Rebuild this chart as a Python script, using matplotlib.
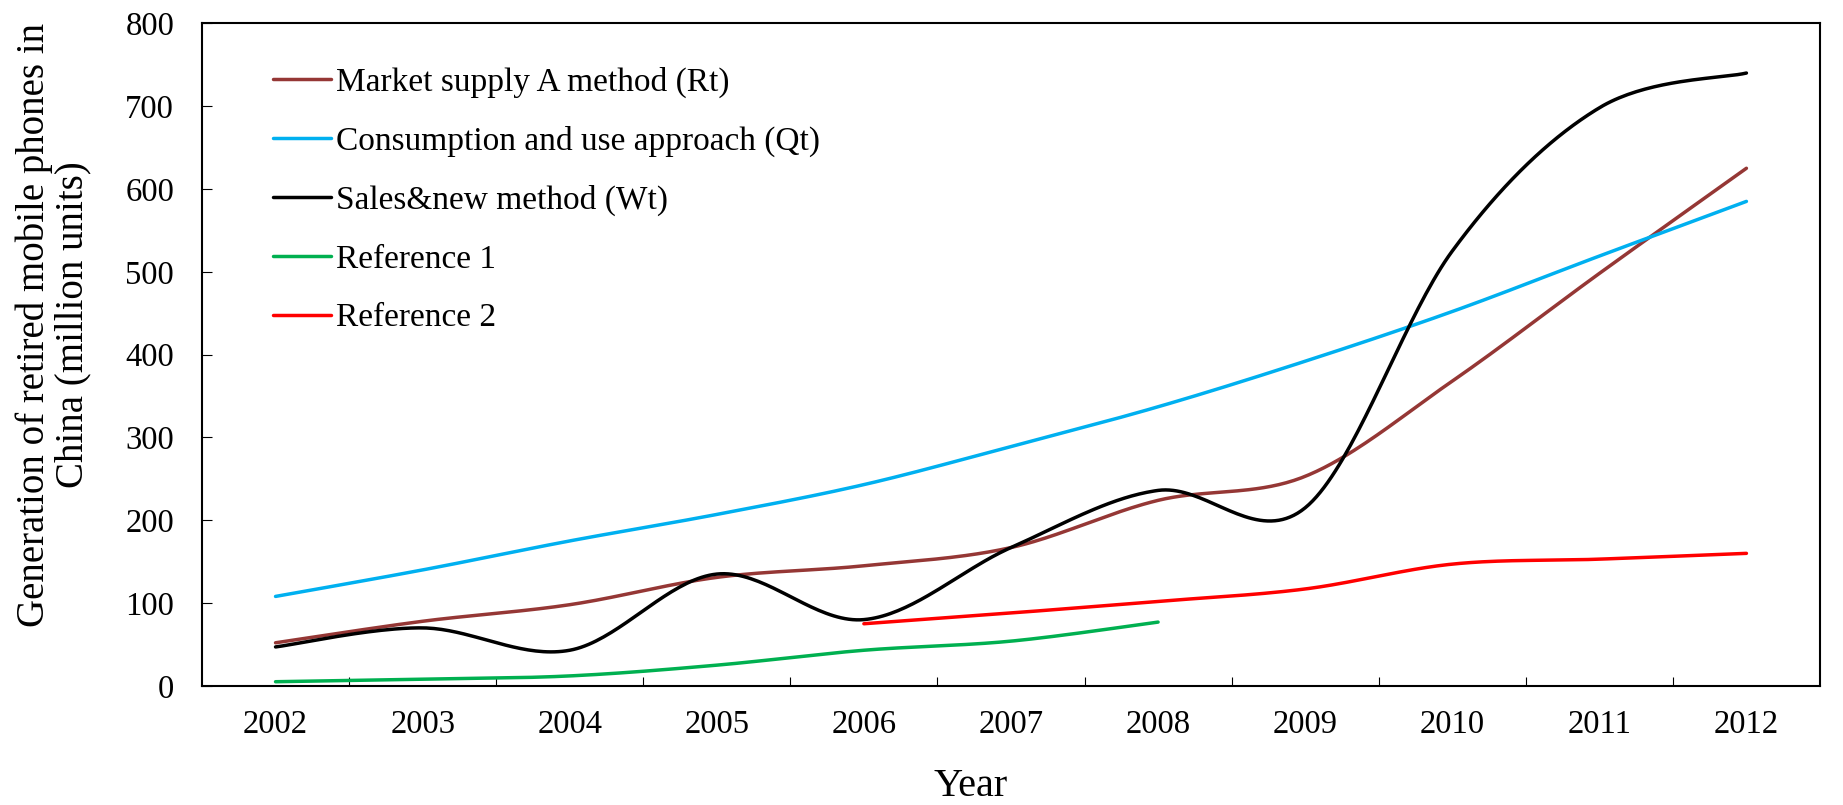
import numpy as np
import matplotlib
matplotlib.use("Agg")
import matplotlib.pyplot as plt
from matplotlib.ticker import FixedLocator

plt.rcParams['font.family'] = ['Liberation Serif', 'DejaVu Serif']

years = ['2002', '2003', '2004', '2005', '2006', '2007', '2008', '2009', '2010', '2011', '2012']
market_supply_rt = [52, 78, 98, 131, 145, 167, 224, 253, 368, 498, 625]
consumption_qt = [108, 140, 175, 207, 243, 289, 337, 392, 452, 519, 585]
sales_new_wt = [47, 70, 43, 135, 80, 167, 236, 215, 525, 698, 740]
reference1 = [5, 8, 12, 25, 43, 54, 77, None, None, None, None]
reference2 = [None, None, None, None, 75, 88, 102, 117, 147, 153, 160]

series = [
    ("Market supply A method (Rt)", market_supply_rt, "#953735"),
    ("Consumption and use approach (Qt)", consumption_qt, "#00B0F0"),
    ("Sales&new method (Wt)", sales_new_wt, "#000000"),
    ("Reference 1", reference1, "#00B050"),
    ("Reference 2", reference2, "#FF0000"),
]


def smooth(xs, ys, n=40):
    """Excel-style smoothed line (Catmull-Rom Bezier) through the given points."""
    P = np.column_stack([xs, ys]).astype(float)
    out = [P[0]]
    m = len(P)
    for i in range(m - 1):
        p0 = P[i - 1] if i > 0 else P[i]
        p1 = P[i]
        p2 = P[i + 1]
        p3 = P[i + 2] if i + 2 < m else P[i + 1]
        c1 = p1 + (p2 - p0) / 6.0
        c2 = p2 - (p3 - p1) / 6.0
        t = np.linspace(0, 1, n)[1:, None]
        seg = ((1 - t) ** 3) * p1 + 3 * ((1 - t) ** 2) * t * c1 + 3 * (1 - t) * t ** 2 * c2 + t ** 3 * p2
        out.extend(seg)
    out = np.array(out)
    return out[:, 0], out[:, 1]


fig = plt.figure(figsize=(18.43, 8.05), dpi=100)
ax = fig.add_axes([0.1096, 0.148, 0.8779, 0.823])

x_all = np.arange(len(years))
for label, vals, color in series:
    xs = [x for x, v in zip(x_all, vals) if v is not None]
    ys = [v for v in vals if v is not None]
    sx, sy = smooth(xs, ys)
    ax.plot(sx, sy, color=color, lw=2.5, label=label, solid_capstyle='round')

ax.set_xlim(-0.5, len(years) - 0.5)
ax.set_ylim(0, 800)
ax.set_yticks(np.arange(0, 801, 100))
ax.set_xticks(x_all)
ax.set_xticklabels(years)
ax.xaxis.set_minor_locator(FixedLocator(np.arange(0.5, len(years) - 1, 1.0)))
ax.tick_params(axis='x', which='major', length=0, pad=16.7, labelsize=23.5)
ax.tick_params(axis='x', which='minor', direction='in', length=6.5, width=0.8)
ax.tick_params(axis='y', which='major', direction='in', length=7, width=0.8, labelsize=23.5, pad=20)

for sp in ax.spines.values():
    sp.set_linewidth(1.5)

ax.set_xlabel("Year", fontsize=29)
ax.xaxis.label.set_va('center')
ax.xaxis.set_label_coords(0.475, -0.152)
ax.set_ylabel("Generation of retired mobile phones in\nChina (million units)", fontsize=28, linespacing=1.05)
ax.yaxis.label.set_va('center')
ax.yaxis.set_label_coords(-0.092, 0.545)

leg = ax.legend(loc='upper left', bbox_to_anchor=(0.0359, 0.955), frameon=False, fontsize=24,
                handlelength=1.73, handletextpad=0.15, labelspacing=0.84, borderaxespad=0)

fig.savefig("out.png", dpi=100)
